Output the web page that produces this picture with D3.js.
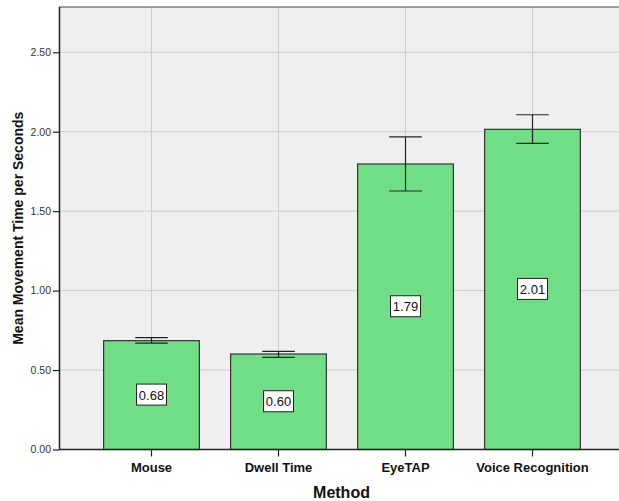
<!DOCTYPE html>
<html>
<head>
<meta charset="utf-8">
<script src="https://cdn.jsdelivr.net/npm/d3@7"></script>
<style>
  body { margin: 0; background: #fff; }
  svg { display: block; font-family: "Liberation Sans", Arial, sans-serif; }
</style>
</head>
<body>
<div id="chart"></div>
<script>
const methods = ['Mouse', 'Dwell Time', 'EyeTAP', 'Voice Recognition'];
const means = [0.685, 0.601, 1.797, 2.015];
const labels = ['0.68', '0.60', '1.79', '2.01'];
const errLow = [0.669, 0.580, 1.627, 1.927];
const errHigh = [0.704, 0.618, 1.967, 2.107];
const yTicks = [0, 0.5, 1, 1.5, 2, 2.5];

const width = 619, height = 501;
const margin = { top: 7, right: 0, bottom: 52, left: 59 };

const svg = d3.select('#chart').append('svg')
    .attr('width', width)
    .attr('height', height);

const x = d3.scaleBand()
    .domain(methods)
    .range([margin.left + 29, margin.left + 29 + 127 * 4])
    .paddingInner(0.246)
    .paddingOuter(0.123);

const y = d3.scaleLinear()
    .domain([0, 2.785])
    .range([height - margin.bottom + 0.5, margin.top]);

// plot background
svg.append('rect')
    .attr('x', margin.left)
    .attr('y', margin.top)
    .attr('width', width - margin.left)
    .attr('height', y(0) - margin.top)
    .attr('fill', '#efefef');

// grid lines
svg.append('g').selectAll('line.h')
    .data(yTicks.filter(d => d > 0))
    .join('line')
    .attr('x1', margin.left).attr('x2', width)
    .attr('y1', d => y(d)).attr('y2', d => y(d))
    .attr('stroke', '#cccccc').attr('stroke-width', 1);

svg.append('g').selectAll('line.v')
    .data(methods)
    .join('line')
    .attr('x1', d => x(d) + x.bandwidth() / 2).attr('x2', d => x(d) + x.bandwidth() / 2)
    .attr('y1', margin.top).attr('y2', y(0))
    .attr('stroke', '#cccccc').attr('stroke-width', 1);

// top border
svg.append('line')
    .attr('x1', margin.left).attr('x2', width)
    .attr('y1', margin.top).attr('y2', margin.top)
    .attr('stroke', '#444').attr('stroke-width', 1.2);

// bars
svg.append('g').selectAll('rect')
    .data(methods)
    .join('rect')
    .attr('x', d => x(d))
    .attr('y', (d, i) => y(means[i]))
    .attr('width', x.bandwidth())
    .attr('height', (d, i) => y(0) - y(means[i]))
    .attr('fill', '#70de86')
    .attr('stroke', '#333')
    .attr('stroke-width', 1.2);

// error bars
const cap = x.bandwidth() * 0.17;
const eb = svg.append('g').attr('stroke', '#222').attr('stroke-width', 1.2);
methods.forEach((m, i) => {
    const cx = x(m) + x.bandwidth() / 2;
    eb.append('line').attr('x1', cx).attr('x2', cx)
        .attr('y1', y(errLow[i])).attr('y2', y(errHigh[i]));
    eb.append('line').attr('x1', cx - cap).attr('x2', cx + cap)
        .attr('y1', y(errLow[i])).attr('y2', y(errLow[i]));
    eb.append('line').attr('x1', cx - cap).attr('x2', cx + cap)
        .attr('y1', y(errHigh[i])).attr('y2', y(errHigh[i]));
});

// value labels
methods.forEach((m, i) => {
    const cx = x(m) + x.bandwidth() / 2;
    const cy = (y(means[i]) + y(0)) / 2;
    svg.append('rect')
        .attr('x', cx - 15).attr('y', cy - 11)
        .attr('width', 30).attr('height', 21)
        .attr('fill', '#fff').attr('stroke', '#222').attr('stroke-width', 1);
    svg.append('text')
        .attr('x', cx).attr('y', cy)
        .attr('text-anchor', 'middle')
        .attr('dominant-baseline', 'central')
        .attr('font-size', 13)
        .attr('fill', '#111')
        .text(labels[i]);
});

// y axis
const yAxis = svg.append('g')
    .attr('transform', `translate(${margin.left},0)`)
    .call(d3.axisLeft(y).tickValues(yTicks).tickFormat(d3.format('.2f')).tickSize(6).tickPadding(2));
yAxis.select('.domain').attr('stroke', '#222').attr('stroke-width', 1.5)
    .attr('d', `M0.5,${margin.top}V${y(0)}`);
yAxis.selectAll('.tick line').attr('stroke', '#222').attr('stroke-width', 1.2);
yAxis.selectAll('.tick text').attr('font-size', 10.5).attr('fill', '#333')
    .attr('font-family', '"Liberation Sans", Arial, sans-serif');

// x axis
const xAxis = svg.append('g')
    .attr('transform', `translate(0,${y(0)})`)
    .call(d3.axisBottom(x).tickSize(7).tickPadding(6));
xAxis.select('.domain').attr('stroke', '#222').attr('stroke-width', 1.5)
    .attr('d', `M${margin.left},0H${width}`);
xAxis.selectAll('.tick line').attr('stroke', '#222').attr('stroke-width', 1.2);
xAxis.selectAll('.tick text').attr('font-size', 13).attr('font-weight', 'bold')
    .attr('fill', '#111').attr('font-family', '"Liberation Sans", Arial, sans-serif');

// axis titles
svg.append('text')
    .attr('x', 341.5)
    .attr('y', 497.5)
    .attr('text-anchor', 'middle')
    .attr('font-size', 16).attr('font-weight', 'bold').attr('fill', '#111')
    .text('Method');

svg.append('text')
    .attr('transform', `translate(23,${(margin.top + y(0)) / 2}) rotate(-90)`)
    .attr('text-anchor', 'middle')
    .attr('font-size', 14).attr('font-weight', 'bold').attr('fill', '#111')
    .text('Mean Movement Time per Seconds');
</script>
</body>
</html>
